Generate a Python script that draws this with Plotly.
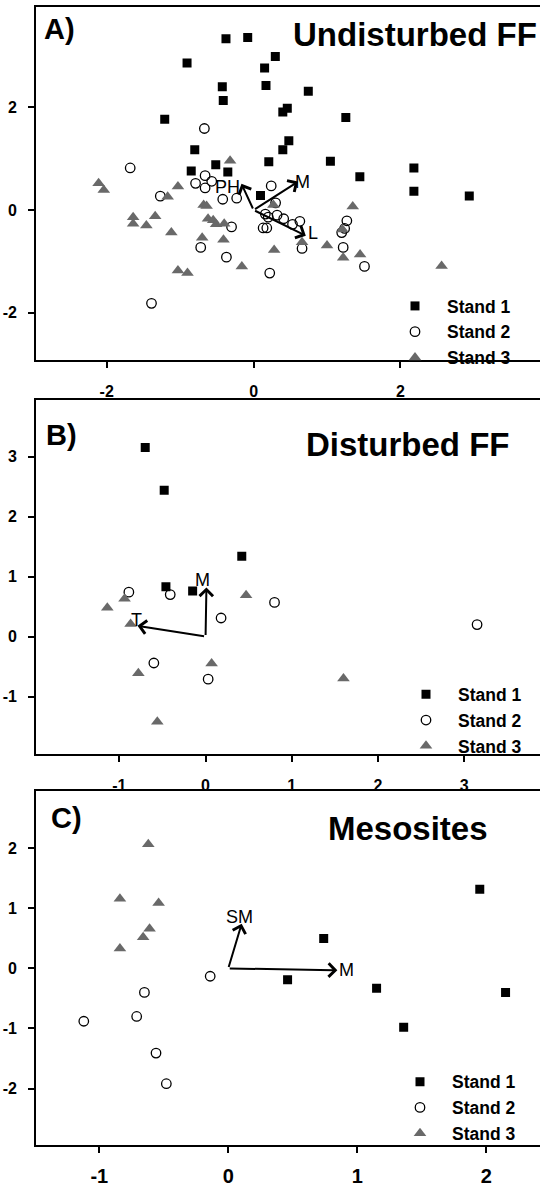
import plotly.graph_objects as go

FONT = "Liberation Sans, Arial, sans-serif"
W, H = 540, 1187

# ---------------- Panel A: Undisturbed FF ----------------
a_s1_x = [-0.376, -0.080, -0.906, 0.296, 0.150, -0.426, 0.169, -0.413, 0.745, 0.398, 0.459, -1.210, 1.256,
          0.480, 0.398, -0.801, -0.515, 0.207, 1.046, -0.849, -0.351, 1.447, 2.183, 2.183, 0.094, 2.937]
a_s1_y = [3.339, 3.364, 2.868, 2.996, 2.771, 2.403, 2.428, 2.138, 2.318, 1.911, 1.983, 1.769, 1.802,
          1.349, 1.174, 1.174, 0.884, 0.942, 0.950, 0.762, 0.742, 0.651, 0.820, 0.368, 0.283, 0.271]
a_s2_x = [-0.67, -1.68, -0.66, -0.79, -0.57, -0.66, -1.27, -0.42, -0.23, 0.24, 0.30, 0.16, 0.20, 0.32, 0.41,
          0.53, 0.63, -0.30, 0.13, 0.18, 1.27, 1.24, 1.20, -0.72, 0.66, 1.22, -0.37, 1.51, 0.22, -1.39]
a_s2_y = [1.59, 0.82, 0.67, 0.52, 0.56, 0.43, 0.27, 0.21, 0.23, 0.47, 0.14, -0.08, -0.14, -0.10, -0.17,
          -0.28, -0.22, -0.33, -0.35, -0.35, -0.21, -0.36, -0.44, -0.73, -0.75, -0.73, -0.92, -1.10, -1.23, -1.82]
a_s3_x = [-0.32, -2.11, -2.04, -1.03, -1.17, -0.68, -0.64, 0.27, 1.35, -1.64, -1.64, -1.34, -1.46, -0.62,
          -0.55, -0.51, -0.40, -1.12, -0.70, -0.41, 0.66, 1.00, 0.28, 1.22, 1.45, 1.21, -0.16, -1.03, -0.90, 2.56]
a_s3_y = [0.96, 0.52, 0.39, 0.46, 0.26, 0.10, 0.08, 0.10, 0.07, -0.14, -0.27, -0.12, -0.30, -0.17,
          -0.20, -0.28, -0.27, -0.44, -0.54, -0.58, -0.63, -0.69, -0.78, -0.93, -0.87, -0.38, -1.10, -1.18, -1.23, -1.09]
a_vec_names = ["PH", "M", "L"]
a_vec_x = [-0.165, 0.606, 0.711]
a_vec_y = [0.51, 0.554, -0.50]
a_lab_x = [-0.358, 0.67, 0.81]
a_lab_y = [0.446, 0.54, -0.44]

# ---------------- Panel B: Disturbed FF ----------------
b_s1_x = [-0.70, -0.48, 0.42, -0.46, -0.15]
b_s1_y = [3.15, 2.44, 1.34, 0.83, 0.76]
b_s2_x = [-0.89, -0.41, 0.18, 0.80, 3.15, -0.60, 0.03]
b_s2_y = [0.74, 0.70, 0.31, 0.57, 0.20, -0.44, -0.71]
b_s3_x = [-1.14, -0.94, -0.87, 0.47, -0.78, 0.07, -0.56, 1.60]
b_s3_y = [0.48, 0.63, 0.21, 0.69, -0.61, -0.45, -1.42, -0.70]
b_vec_names = ["M", "T"]
b_vec_x = [0.01, -0.79]
b_vec_y = [0.82, 0.18]
b_lab_x = [-0.04, -0.80]
b_lab_y = [0.94, 0.28]

# ---------------- Panel C: Mesosites ----------------
c_s1_x = [1.95, 0.74, 0.46, 1.15, 1.36, 2.15]
c_s1_y = [1.32, 0.50, -0.19, -0.33, -0.98, -0.40]
c_s2_x = [-0.14, -0.65, -0.71, -1.12, -0.56, -0.48]
c_s2_y = [-0.13, -0.40, -0.80, -0.88, -1.41, -1.92]
c_s3_x = [-0.62, -0.84, -0.54, -0.61, -0.66, -0.84]
c_s3_y = [2.07, 1.16, 1.09, 0.66, 0.52, 0.33]
c_vec_names = ["SM", "M"]
c_vec_x = [0.104, 0.846]
c_vec_y = [0.745, -0.03]
c_lab_x = [0.09, 0.92]
c_lab_y = [0.85, -0.02]

stand_names = ["Stand 1", "Stand 2", "Stand 3"]
panel_titles = ["Undisturbed FF", "Disturbed FF", "Mesosites"]
panel_letters = ["A)", "B)", "C)"]

# tick values and labels (hyphen minus as in the original)
x_ticks = [[-2, 0, 2], [-1, 0, 1, 2, 3], [-1, 0, 1, 2]]
y_ticks = [[-2, 0, 2], [-1, 0, 1, 2, 3], [-2, -1, 0, 1, 2]]
x_ticktext = [["-2", "0", "2"], ["-1", "0", "1", "2", "3"], ["-1", "0", "1", "2"]]
y_ticktext = [["-2", "0", "2"], ["-1", "0", "1", "2", "3"], ["-2", "-1", "0", "1", "2"]]

# layout geometry (pixels)
x_left_px = 36.2
panel_px = [(7, 362.7), (402.3, 759.3), (796.7, 1152.7)]
x_ranges = [[-2.96, 3.90], [-1.965, 3.88], [-1.489, 2.417]]
y_ranges = [[-2.93, 3.96], [-1.96, 3.95], [-2.94, 2.95]]
x_tick_font = [16, 16, 20]
title_pos = [(414.5, 35), (408, 447.5), (407.6, 834.5)]
letter_pos = [(59, 29.5), (61, 438), (66, 824)]
legend_pos = [(383, 290), (394, 681), (388, 1071)]

def py(p):
    return 1 - p / H

def px(p):
    return p / W

panels = [
    (a_s1_x, a_s1_y, a_s2_x, a_s2_y, a_s3_x, a_s3_y, a_vec_names, a_vec_x, a_vec_y, a_lab_x, a_lab_y),
    (b_s1_x, b_s1_y, b_s2_x, b_s2_y, b_s3_x, b_s3_y, b_vec_names, b_vec_x, b_vec_y, b_lab_x, b_lab_y),
    (c_s1_x, c_s1_y, c_s2_x, c_s2_y, c_s3_x, c_s3_y, c_vec_names, c_vec_x, c_vec_y, c_lab_x, c_lab_y),
]

fig = go.Figure()
annotations = []
layout = {}
styles = [
    dict(symbol="square", size=9, color="black", line=dict(width=0)),
    dict(symbol="circle-open", size=9.5, color="black", line=dict(width=1.3, color="black")),
    dict(symbol="triangle-up", size=11, color="rgb(105,105,105)", line=dict(width=0)),
]

for i, pdata in enumerate(panels):
    sfx = "" if i == 0 else str(i + 1)
    xa, ya = "x" + sfx, "y" + sfx
    leg = "legend" + sfx
    s1x, s1y, s2x, s2y, s3x, s3y, vn, vx, vy, lx, ly = pdata
    for k, (xs, ys) in enumerate([(s1x, s1y), (s2x, s2y), (s3x, s3y)]):
        fig.add_trace(go.Scatter(x=xs, y=ys, mode="markers", name=stand_names[k],
                                 marker=styles[k], xaxis=xa, yaxis=ya, legend=leg,
                                 hoverinfo="skip"))
    top, bot = panel_px[i]
    layout["xaxis" + sfx] = dict(
        domain=[px(x_left_px), 1], anchor=ya, range=x_ranges[i],
        tickvals=x_ticks[i], ticktext=x_ticktext[i],
        showline=True, linewidth=2, linecolor="black", mirror=True,
        ticks="outside", ticklen=6, tickwidth=2, tickcolor="black",
        showgrid=False, zeroline=False, ticklabelstandoff=10 if i < 2 else 6,
        tickfont=dict(family=FONT, size=x_tick_font[i], color="black", weight="bold"))
    layout["yaxis" + sfx] = dict(
        domain=[py(bot), py(top)], anchor=xa, range=y_ranges[i],
        tickvals=y_ticks[i], ticktext=y_ticktext[i],
        showline=True, linewidth=2, linecolor="black", mirror=False,
        ticks="outside", ticklen=6, tickwidth=2, tickcolor="black",
        showgrid=False, zeroline=False, ticklabelstandoff=8,
        tickfont=dict(family=FONT, size=16, color="black", weight="bold"))
    lx0, ly0 = legend_pos[i]
    layout[leg] = dict(
        x=px(lx0), y=py(ly0), xanchor="left", yanchor="top", xref="paper", yref="paper",
        itemwidth=54, bgcolor="rgba(0,0,0,0)", borderwidth=0,
        font=dict(family=FONT, size=17.5, color="black", weight="bold"),
        tracegroupgap=0, itemclick=False, itemdoubleclick=False)
    # vectors
    for name, tx, ty, lbx, lby in zip(vn, vx, vy, lx, ly):
        annotations.append(dict(
            x=tx, y=ty, ax=0, ay=0, xref=xa, yref=ya, axref=xa, ayref=ya,
            showarrow=True, arrowhead=4, arrowsize=1.3, arrowwidth=2, arrowcolor="black",
            standoff=0, startstandoff=0, text=""))
        annotations.append(dict(
            x=lbx, y=lby, xref=xa, yref=ya, text=name, showarrow=False,
            xanchor="center", yanchor="middle",
            font=dict(family=FONT, size=18, color="black")))
    tx_, ty_ = title_pos[i]
    annotations.append(dict(
        x=px(tx_), y=py(ty_), xref="paper", yref="paper", text=panel_titles[i], showarrow=False,
        xanchor="center", yanchor="middle",
        font=dict(family=FONT, size=33, color="black", weight="bold")))
    lx_, ly_ = letter_pos[i]
    annotations.append(dict(
        x=px(lx_), y=py(ly_), xref="paper", yref="paper", text=panel_letters[i], showarrow=False,
        xanchor="center", yanchor="middle",
        font=dict(family=FONT, size=29, color="black", weight="bold")))

fig.update_layout(
    width=W, height=H, margin=dict(l=0, r=0, t=0, b=0),
    paper_bgcolor="white", plot_bgcolor="white",
    annotations=annotations, **layout)

fig.write_html("out.html")
